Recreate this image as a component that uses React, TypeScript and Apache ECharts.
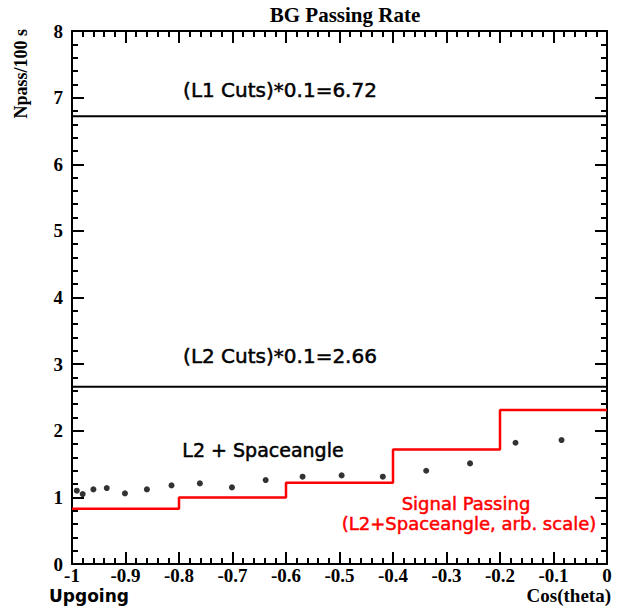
import React, { useEffect, useRef } from "react";
import * as echarts from "echarts";

const binEdges = [-1, -0.8, -0.6, -0.4, -0.2, 0];
const signalValues = [0.83, 1.0, 1.22, 1.72, 2.31];
const dotX = [-0.991, -0.98, -0.96, -0.935, -0.901, -0.86, -0.814, -0.761, -0.701, -0.638, -0.569, -0.496, -0.419, -0.338, -0.256, -0.171, -0.085];
const dotY = [1.1, 1.05, 1.12, 1.14, 1.06, 1.12, 1.18, 1.21, 1.15, 1.26, 1.31, 1.33, 1.31, 1.4, 1.51, 1.82, 1.86];
const l1Level = 6.72;
const l2Level = 2.66;

const serif = "Liberation Serif";
const sans = "DejaVu Sans";

export default function App() {
  const ref = useRef<HTMLDivElement>(null);
  useEffect(() => {
    const chart = echarts.init(ref.current!, null, { renderer: "svg" });
    const stepData = binEdges.map((x, i) => [x, signalValues[Math.min(i, signalValues.length - 1)]]);
    const tickStyle = { show: true, inside: true, length: 12, lineStyle: { color: "#000", width: 2 } };
    const minorStyle = { show: true, splitNumber: 5, length: 6, lineStyle: { color: "#000", width: 2 } };
    const axisLine = { show: true, onZero: false, lineStyle: { color: "#000", width: 2 } };
    const note = (text: string, x: number, y: number, size: number, color: string) => ({
      type: "text", x, y,
      style: { text, font: `${size}px "${sans}"`, fill: color, stroke: color, lineWidth: 0.5, align: "center", verticalAlign: "middle" },
    });
    chart.setOption({
      animation: false,
      backgroundColor: "#fff",
      grid: { left: 72, right: 14, top: 31, bottom: 43 },
      xAxis: [
        {
          type: "value", min: -1, max: 0, interval: 0.1,
          axisLine, axisTick: tickStyle, minorTick: minorStyle,
          splitLine: { show: false },
          axisLabel: {
            color: "#000", fontFamily: serif, fontWeight: "bold", fontSize: 19, margin: 2,
            formatter: (v: number) => String(Number(v.toFixed(1))),
          },
        },
        {
          type: "value", min: -1, max: 0, interval: 0.1, position: "top",
          axisLine, axisTick: tickStyle, minorTick: minorStyle, splitLine: { show: false },
          axisLabel: { show: false },
        },
      ],
      yAxis: [
        {
          type: "value", min: 0, max: 8, interval: 1,
          axisLine, axisTick: tickStyle, minorTick: minorStyle, splitLine: { show: false },
          axisLabel: { color: "#000", fontFamily: serif, fontWeight: "bold", fontSize: 19, margin: 9 },
        },
        {
          type: "value", min: 0, max: 8, interval: 1, position: "right",
          axisLine, axisTick: tickStyle, minorTick: minorStyle, splitLine: { show: false },
          axisLabel: { show: false },
        },
      ],
      series: [
        {
          type: "line", data: [[-1, l1Level], [0, l1Level]], showSymbol: false,
          lineStyle: { color: "#000", width: 2 }, silent: true,
        },
        {
          type: "line", data: [[-1, l2Level], [0, l2Level]], showSymbol: false,
          lineStyle: { color: "#000", width: 2 }, silent: true,
        },
        {
          type: "line", step: "end", data: stepData, showSymbol: false,
          lineStyle: { color: "#ff0000", width: 2.5 }, silent: true,
        },
        {
          type: "scatter", data: dotX.map((x, i) => [x, dotY[i]]), symbolSize: 6,
          itemStyle: { color: "#000" }, silent: true,
        },
      ],
      graphic: [
        { type: "text", x: 345, y: 15, style: { text: "BG Passing Rate", font: `bold 21px "${serif}"`, fill: "#000", align: "center", verticalAlign: "middle" } },
        { type: "text", x: 21, y: 29, rotation: Math.PI / 2, style: { text: "Npass/100 s", font: `bold 18px "${serif}"`, fill: "#000", align: "right", verticalAlign: "middle" } },
        note("(L1 Cuts)*0.1=6.72", 280, 90, 20, "#000"),
        note("(L2 Cuts)*0.1=2.66", 280, 356, 20, "#000"),
        note("L2 + Spaceangle", 263, 450, 19, "#000"),
        note("Signal Passing", 466, 503, 18, "#ff0000"),
        note("(L2+Spaceangle, arb. scale)", 469, 523, 18, "#ff0000"),
        { type: "text", x: 49, y: 596, style: { text: "Upgoing", font: `bold 17px "${sans}"`, fill: "#000", align: "left", verticalAlign: "middle" } },
        { type: "text", x: 611, y: 595, style: { text: "Cos(theta)", font: `bold 19px "${serif}"`, fill: "#000", align: "right", verticalAlign: "middle" } },
      ],
    });
    return () => chart.dispose();
  }, []);
  return <div ref={ref} style={{ position: "absolute", left: 0, top: 0, width: 621, height: 607, background: "#fff" }} />;
}
